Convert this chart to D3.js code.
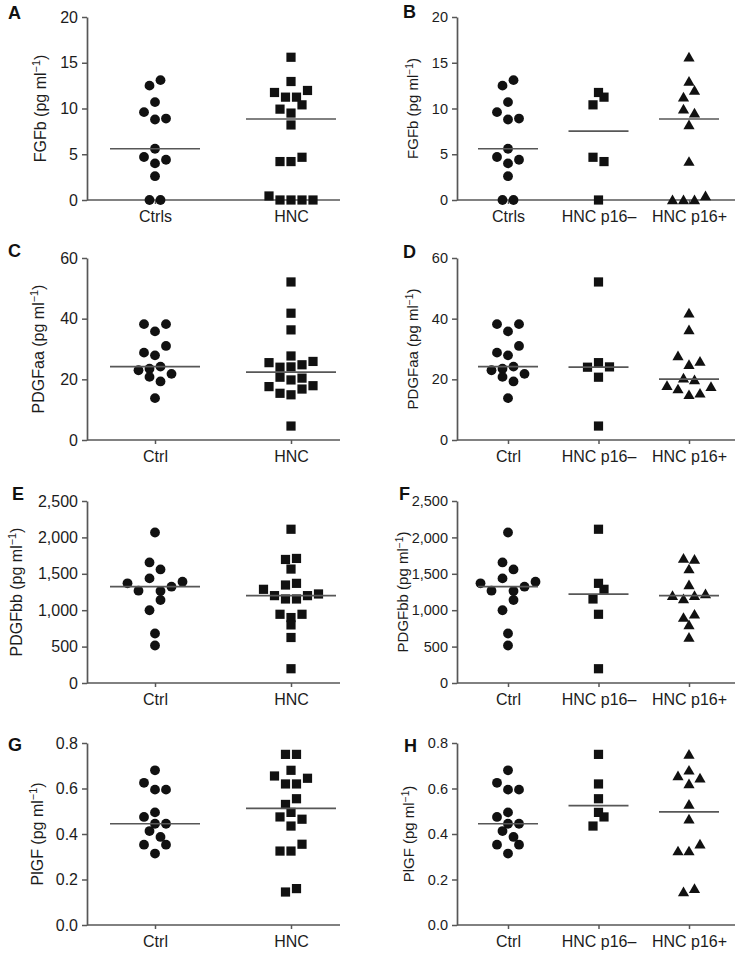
<!DOCTYPE html>
<html>
<head>
<meta charset="utf-8">
<script src="https://cdn.jsdelivr.net/npm/d3@7"></script>
<style>
  html, body { margin: 0; padding: 0; background: #fff; }
  svg { display: block; font-family: "Liberation Sans", Arial, Helvetica, sans-serif; }
</style>
</head>
<body>
<svg id="chart" width="738" height="953"></svg>
<script>
// ---------------- DATA (inner arrays = dot rows as drawn) ----------------
const catsTwoA = ["Ctrls", "HNC"];
const catsThreeB = ["Ctrls", "HNC p16\u2013", "HNC p16+"];
const catsTwo = ["Ctrl", "HNC"];
const catsThree = ["Ctrl", "HNC p16\u2013", "HNC p16+"];

const yTicksFGF = [0, 5, 10, 15, 20];
const yTicksPDGFaa = [0, 20, 40, 60];
const yTicksPDGFbb = [0, 500, 1000, 1500, 2000, 2500];
const yTicksPlGF = [0, 0.2, 0.4, 0.6, 0.8];

// FGFb (pg/ml)
const fgfCtrl   = [[12.5, 13.1], [10.7], [9.6, 8.8, 8.9], [5.6], [4.7, 4.0, 4.4], [2.6], [0, 0]];
const fgfHNC    = [[15.6], [12.95], [11.75, 11.24, 11.24, 11.97], [9.93, 9.5, 10.4], [8.2], [4.2, 4.2, 4.67], [0.44, 0, 0, 0, 0]];
const fgfP16neg = [[11.75], [10.4, 11.24], [4.67, 4.2], [0]];
const fgfP16pos = [[15.6], [12.95], [11.24, 11.97], [9.93, 9.5], [8.2], [4.2], [0, 0, 0, 0.44]];

// PDGFaa (pg/ml)
const pdgfaaCtrl   = [[38.2, 35.8, 38.2], [28.8, 27.9, 31.0], [23.0, 23.5, 24.2, 21.8], [20.8, 19.3], [13.8]];
const pdgfaaHNC    = [[52.1], [41.8], [36.3], [27.7], [25.5, 24.0, 24.1, 24.8, 25.9], [20.7, 19.8, 20.4], [17.6, 15.4, 14.9, 16.8, 17.9], [4.6]];
const pdgfaaP16neg = [[52.1], [24.0, 25.5, 24.1], [20.7], [4.6]];
const pdgfaaP16pos = [[41.8], [36.3], [27.7, 24.8, 25.9], [20.4, 19.8], [17.9, 16.8, 14.9, 15.4, 17.6]];

// PDGFbb (pg/ml)
const pdgfbbCtrl   = [[2067], [1656, 1560], [1369, 1268, 1437, 1264, 1323, 1391], [999, 1140], [680], [515]];
const pdgfbbHNC    = [[2112], [1697, 1711], [1565], [1346, 1369], [1287, 1200, 1154, 1154, 1200, 1223], [944, 899, 944], [798], [625], [196]];
const pdgfbbP16neg = [[2112], [1369], [1154, 1287], [944], [196]];
const pdgfbbP16pos = [[1711, 1697], [1565], [1346], [1200, 1154, 1200, 1223], [899, 944], [798], [625]];

// PlGF (pg/ml)
const plgfCtrl   = [[0.68], [0.625, 0.595, 0.595], [0.495], [0.475, 0.445, 0.445], [0.413, 0.387], [0.353, 0.314, 0.353]];
const plgfHNC    = [[0.75, 0.75], [0.68], [0.655, 0.62, 0.62, 0.645], [0.53, 0.555], [0.475, 0.495, 0.465], [0.435], [0.325, 0.325, 0.355], [0.145, 0.16]];
const plgfP16neg = [[0.75], [0.62], [0.555], [0.495], [0.435, 0.475]];
const plgfP16pos = [[0.75], [0.68], [0.655, 0.62, 0.645], [0.53], [0.465], [0.325, 0.325, 0.355], [0.145, 0.16]];

// ---------------- PANEL DEFINITIONS ----------------
const fmtInt = d3.format("d");
const fmtComma = d3.format(",");
const fmt1 = d3.format(".1f");

const panels = [
  {letter: "A", row: 0, col: 0, name: "FGFb",   cats: catsTwoA,   groups: [fgfCtrl, fgfHNC], ticks: yTicksFGF, fmt: fmtInt},
  {letter: "B", row: 0, col: 1, name: "FGFb",   cats: catsThreeB, groups: [fgfCtrl, fgfP16neg, fgfP16pos], ticks: yTicksFGF, fmt: fmtInt},
  {letter: "C", row: 1, col: 0, name: "PDGFaa", cats: catsTwo,    groups: [pdgfaaCtrl, pdgfaaHNC], ticks: yTicksPDGFaa, fmt: fmtInt},
  {letter: "D", row: 1, col: 1, name: "PDGFaa", cats: catsThree,  groups: [pdgfaaCtrl, pdgfaaP16neg, pdgfaaP16pos], ticks: yTicksPDGFaa, fmt: fmtInt},
  {letter: "E", row: 2, col: 0, name: "PDGFbb", cats: catsTwo,    groups: [pdgfbbCtrl, pdgfbbHNC], ticks: yTicksPDGFbb, fmt: fmtComma},
  {letter: "F", row: 2, col: 1, name: "PDGFbb", cats: catsThree,  groups: [pdgfbbCtrl, pdgfbbP16neg, pdgfbbP16pos], ticks: yTicksPDGFbb, fmt: fmtComma},
  {letter: "G", row: 3, col: 0, name: "PlGF",   cats: catsTwo,    groups: [plgfCtrl, plgfHNC], ticks: yTicksPlGF, fmt: fmt1},
  {letter: "H", row: 3, col: 1, name: "PlGF",   cats: catsThree,  groups: [plgfCtrl, plgfP16neg, plgfP16pos], ticks: yTicksPlGF, fmt: fmt1}
];

// ---------------- LAYOUT ----------------
const rowTop  = [17, 258, 501, 743];
const rowZero = [200, 440, 683, 925];
const colAxisX = [87, 457];
const colEndX  = [340, 735];
const catRange = {2: [155, 291], 3: [508, 689]};
const medianHalf = [45, 30];
const titleOffset = [[47, 44], [49, 44], [71, 54], [50, 48]];
const letterPos = [[8, 19], [403, 18], [8, 257], [403, 258], [12, 500], [399, 500], [8, 751], [404, 752]];
const tickFont = [16, 14.5];
const titleFont = [16, 15];
const step = 11;
const axisColor = "#575757";
const inkColor = "#111";
const textColor = "#1c1c1c";

const shapeKinds = ["circle", "square", "triangle"];

const svg = d3.select("#chart");

panels.forEach((p, pi) => {
  const g = svg.append("g");
  const ax = colAxisX[p.col];
  const top = rowTop[p.row], zero = rowZero[p.row];
  const yMax = p.ticks[p.ticks.length - 1];

  const y = d3.scaleLinear().domain([0, yMax]).range([zero, top]);
  const x = d3.scalePoint().domain(p.cats).range(catRange[p.cats.length]);

  // Y axis
  const yAxis = d3.axisLeft(y).tickValues(p.ticks).tickFormat(p.fmt).tickSize(5).tickSizeOuter(0).tickPadding(4);
  const yg = g.append("g").attr("transform", `translate(${ax},0)`).call(yAxis);
  yg.select(".domain").attr("stroke", axisColor).attr("stroke-width", 1.7);
  yg.selectAll(".tick line").attr("stroke", axisColor).attr("stroke-width", 1.5);
  yg.selectAll(".tick text").attr("fill", textColor).style("font-size", tickFont[p.col] + "px")
    .style("font-family", "'Liberation Sans', Arial, sans-serif");

  // X axis baseline
  g.append("line").attr("x1", ax).attr("x2", colEndX[p.col]).attr("y1", zero).attr("y2", zero)
    .attr("stroke", axisColor).attr("stroke-width", 1.7);
  const xAxis = d3.axisBottom(x).tickSize(4).tickSizeOuter(0).tickPadding(7);
  const xg = g.append("g").attr("transform", `translate(0,${zero})`).call(xAxis);
  xg.select(".domain").remove();
  xg.selectAll(".tick line").attr("stroke", axisColor).attr("stroke-width", 1.5);
  xg.selectAll(".tick text").attr("fill", textColor).style("font-size", "16px")
    .style("font-family", "'Liberation Sans', Arial, sans-serif");

  // Y title
  const tx = ax - titleOffset[p.row][p.col];
  const ty = (top + zero) / 2;
  const fs = titleFont[p.col];
  const t = g.append("text")
    .attr("transform", `translate(${tx},${ty}) rotate(-90)`)
    .attr("text-anchor", "middle").attr("dy", "0.35em")
    .attr("fill", textColor).style("font-size", fs + "px");
  t.append("tspan").text(p.name + " (pg ml");
  t.append("tspan").text("\u22121").style("font-size", (fs * 0.68) + "px").attr("dy", "-0.55em");
  t.append("tspan").text(")").attr("dy", "0.37em");

  // Panel letter
  g.append("text").attr("x", letterPos[pi][0]).attr("y", letterPos[pi][1])
    .attr("fill", "#111").style("font-size", "18px").style("font-weight", "bold").text(p.letter);

  // Points
  p.groups.forEach((rows, gi) => {
    const cx = x(p.cats[gi]);
    const kind = shapeKinds[gi === 0 ? 0 : (p.cats.length === 2 ? 1 : gi)];
    const pts = [];
    rows.forEach(r => r.forEach((v, i) => pts.push({v, dx: (i - (r.length - 1) / 2) * step})));
    const sel = g.append("g").attr("fill", inkColor);
    pts.forEach(d => {
      const px = cx + d.dx, py = y(d.v);
      if (kind === "circle") {
        sel.append("circle").attr("cx", px).attr("cy", py).attr("r", 4.9);
      } else if (kind === "square") {
        sel.append("rect").attr("x", px - 4.6).attr("y", py - 4.6).attr("width", 9.2).attr("height", 9.2);
      } else {
        sel.append("path").attr("transform", `translate(${px},${py})`).attr("d", "M0,-5.4L5.6,4.3L-5.6,4.3Z");
      }
    });
    // median line
    const med = d3.median(rows.flat());
    g.append("line").attr("x1", cx - medianHalf[p.col]).attr("x2", cx + medianHalf[p.col])
      .attr("y1", y(med)).attr("y2", y(med)).attr("stroke", axisColor).attr("stroke-width", 1.7);
  });
});
</script>
</body>
</html>
